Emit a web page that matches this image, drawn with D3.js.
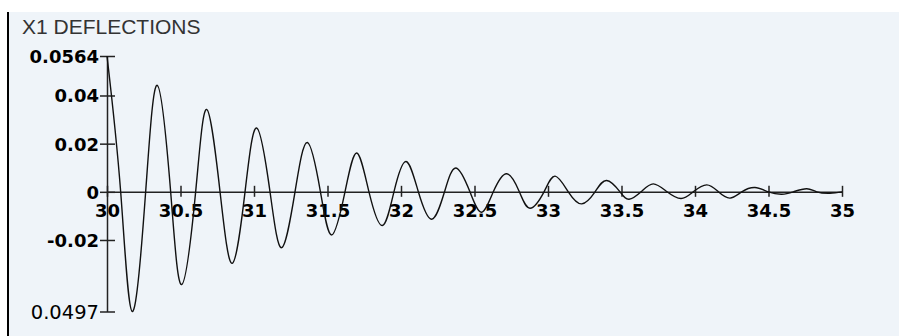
<!DOCTYPE html>
<html>
<head>
<meta charset="utf-8">
<script src="https://cdn.jsdelivr.net/npm/d3@7"></script>
<style>
  html, body { margin: 0; padding: 0; background: #ffffff; }
  svg { display: block; }
</style>
</head>
<body>
<svg id="chart" width="899" height="336"></svg>
<script>
// ---- data ----
const title = "X1 DEFLECTIONS";
// time values at extrema and zero crossings
const timeValues = [
  30.000, 30.093, 30.172, 30.263, 30.342, 30.433, 30.508, 30.603, 30.678, 30.769,
  30.852, 30.939, 31.018, 31.109, 31.188, 31.279, 31.363, 31.452, 31.529, 31.619,
  31.699, 31.782, 31.873, 31.952, 32.034, 32.118, 32.209, 32.296, 32.374, 32.469,
  32.548, 32.628, 32.719, 32.805, 32.878, 32.973, 33.048, 33.138, 33.229, 33.320,
  33.399, 33.490, 33.551, 33.633, 33.716, 33.810, 33.905, 33.988, 34.080, 34.159,
  34.238, 34.318, 34.408, 34.499, 34.590, 34.669, 34.760, 34.828, 34.918, 35.000
];
const deflectionValues = [
  0.0564, 0, -0.0497, 0, 0.0442, 0, -0.0385, 0, 0.0342, 0,
  -0.0297, 0, 0.0265, 0, -0.0232, 0, 0.0205, 0, -0.0179, 0,
  0.0161, 0, -0.0140, 0, 0.0126, 0, -0.0114, 0, 0.0099, 0,
  -0.0085, 0, 0.0075, 0, -0.0068, 0, 0.0065, 0, -0.0050, 0,
  0.0047, 0, -0.0031, 0, 0.0033, 0, -0.0028, 0, 0.0029, 0,
  -0.0026, 0, 0.0018, 0, -0.0010, 0, 0.0013, 0, -0.0006, 0
];
const xTickValues = [30, 30.5, 31, 31.5, 32, 32.5, 33, 33.5, 34, 34.5, 35];
const xTickLabels = ["30", "30.5", "31", "31.5", "32", "32.5", "33", "33.5", "34", "34.5", "35"];
const yTickValues = [-0.0497, -0.02, 0, 0.02, 0.04, 0.0564];
const yTickLabels = ["0.0497", "-0.02", "0", "0.02", "0.04", "0.0564"];

// ---- layout ----
const svg = d3.select("#chart");
const W = 899, H = 336;

svg.append("rect").attr("x", 8).attr("y", 12).attr("width", W - 8).attr("height", H - 12)
  .attr("fill", "#eff4f9");
svg.append("line").attr("x1", 8).attr("x2", 8).attr("y1", 12).attr("y2", H)
  .attr("stroke", "#000").attr("stroke-width", 2);

svg.append("text").attr("x", 22).attr("y", 34)
  .attr("font-family", "'Liberation Sans', Arial, sans-serif")
  .attr("font-size", 21).attr("fill", "#333")
  .text(title);

const x = d3.scaleLinear().domain([30, 35]).range([107, 842]);
const y = d3.scaleLinear().domain([-0.0497, 0.0564]).range([311.5, 56]);

// y axis
const yAxis = d3.axisLeft(y).tickValues(yTickValues)
  .tickFormat((d, i) => yTickLabels[i]).tickSizeInner(0).tickSizeOuter(0);
const gy = svg.append("g").attr("transform", `translate(${x(30)},0)`).call(yAxis);
gy.select(".domain").attr("stroke", "#222").attr("stroke-width", 1.5);
gy.selectAll(".tick line").remove();
gy.selectAll(".tick").append("line")
  .attr("x1", -7).attr("x2", 8).attr("stroke", "#222").attr("stroke-width", 1.5);
gy.selectAll(".tick text")
  .attr("x", -8).attr("dy", "0.36em")
  .attr("font-family", "'DejaVu Sans', Verdana, sans-serif")
  .attr("font-weight", (d, i) => i === 0 ? "normal" : "bold")
  .attr("font-size", (d, i) => i === 0 ? 19.5 : 18)
  .attr("fill", "#000");

// x axis along zero line
const xAxis = d3.axisBottom(x).tickValues(xTickValues)
  .tickFormat((d, i) => xTickLabels[i]).tickSizeInner(0).tickSizeOuter(0);
const gx = svg.append("g").attr("transform", `translate(0,${y(0)})`).call(xAxis);
gx.select(".domain").attr("stroke", "#222").attr("stroke-width", 1.5);
gx.selectAll(".tick line").remove();
gx.selectAll(".tick").append("line")
  .attr("y1", -6).attr("y2", 5).attr("stroke", "#222").attr("stroke-width", 1.5);
gx.selectAll(".tick text")
  .attr("y", 25).attr("dy", 0)
  .attr("font-family", "'DejaVu Sans', Verdana, sans-serif")
  .attr("font-weight", "bold").attr("font-size", 18)
  .attr("fill", "#000");

// curve
const pts = timeValues.map((t, i) => [t, deflectionValues[i]]);
const line = d3.line().x(d => x(d[0])).y(d => y(d[1])).curve(d3.curveNatural);
svg.append("path").datum(pts).attr("d", line)
  .attr("fill", "none").attr("stroke", "#111").attr("stroke-width", 1.4);
</script>
</body>
</html>
